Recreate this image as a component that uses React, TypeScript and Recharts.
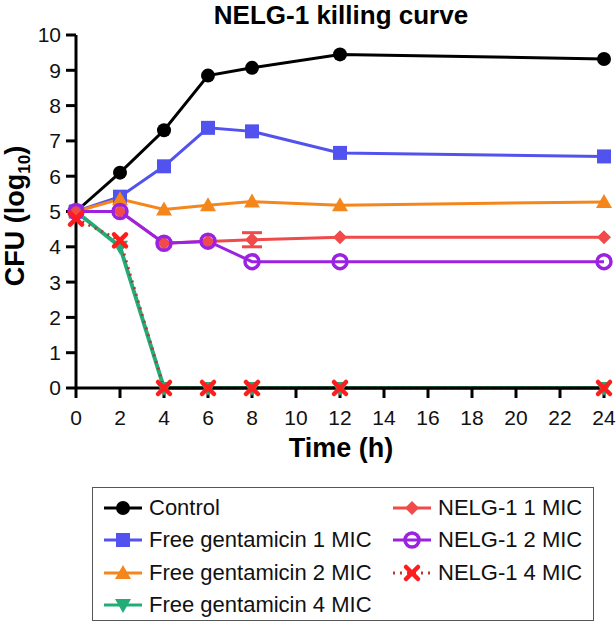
import React from 'react';
import { LineChart, Line, XAxis, YAxis, ErrorBar } from 'recharts';

const times = [0, 2, 4, 6, 8, 12, 24];
const control = [5, 6.1, 7.3, 8.85, 9.07, 9.45, 9.32];
const gent1 = [5, 5.42, 6.28, 7.37, 7.27, 6.66, 6.56];
const gent2 = [5, 5.35, 5.06, 5.18, 5.28, 5.18, 5.27];
const gent4 = [5, 4.0, 0, 0, 0, 0, 0];
const nelg1 = [5, 5, 4.1, 4.15, 4.2, 4.27, 4.27];
const nelg1Err = [0, 0, 0, 0, 0.2, 0, 0];
const nelg2 = [5, 5, 4.1, 4.16, 3.58, 3.58, 3.58];
const nelg4 = [4.8, 4.18, 0, 0, 0, 0, 0];

const xTicks = [0, 2, 4, 6, 8, 10, 12, 14, 16, 18, 20, 22, 24];
const yTicks = [0, 1, 2, 3, 4, 5, 6, 7, 8, 9, 10];

const data = times.map((t, i) => ({
  t,
  control: control[i],
  gent1: gent1[i],
  gent2: gent2[i],
  gent4: gent4[i],
  nelg1: nelg1[i],
  nelg1Err: nelg1Err[i],
  nelg2: nelg2[i],
  nelg4: nelg4[i],
}));

const FONT = '"Liberation Sans", Arial, sans-serif';

const C = {
  control: '#000000',
  gent1: '#5252ee',
  gent2: '#f5861c',
  gent4: '#22ad78',
  nelg1: '#f04a4a',
  nelg2: '#9b22e0',
  nelg4: '#ff1c1c',
  nelg4Line: '#b83a30',
};

type Shape = 'circle' | 'square' | 'up' | 'down' | 'diamond' | 'open' | 'x';

function Marker({ shape, cx, cy, color }: { shape: Shape; cx: number; cy: number; color: string }) {
  switch (shape) {
    case 'circle':
      return <circle cx={cx} cy={cy} r={7} fill={color} />;
    case 'square':
      return <rect x={cx - 7} y={cy - 7} width={14} height={14} fill={color} />;
    case 'up':
      return <polygon points={`${cx},${cy - 8} ${cx - 8},${cy + 6} ${cx + 8},${cy + 6}`} fill={color} />;
    case 'down':
      return <polygon points={`${cx - 8},${cy - 6} ${cx + 8},${cy - 6} ${cx},${cy + 8}`} fill={color} />;
    case 'diamond':
      return <polygon points={`${cx},${cy - 7} ${cx + 7},${cy} ${cx},${cy + 7} ${cx - 7},${cy}`} fill={color} />;
    case 'open':
      return <circle cx={cx} cy={cy} r={7} fill="none" stroke={color} strokeWidth={3.5} />;
    case 'x':
      return (
        <g stroke={color} strokeWidth={4.5} strokeLinecap="round">
          <line x1={cx - 6} y1={cy - 6} x2={cx + 6} y2={cy + 6} />
          <line x1={cx - 6} y1={cy + 6} x2={cx + 6} y2={cy - 6} />
        </g>
      );
  }
  return null;
}

const dotFn = (shape: Shape, color: string) => (p: any) => (
  <g key={`d-${shape}-${p.index}`}>
    <Marker shape={shape} cx={p.cx} cy={p.cy} color={color} />
  </g>
);

const series = [
  { key: 'control', name: 'Control', color: C.control, shape: 'circle' as Shape },
  { key: 'gent1', name: 'Free gentamicin 1 MIC', color: C.gent1, shape: 'square' as Shape },
  { key: 'gent2', name: 'Free gentamicin 2 MIC', color: C.gent2, shape: 'up' as Shape },
  { key: 'gent4', name: 'Free gentamicin 4 MIC', color: C.gent4, shape: 'down' as Shape },
  { key: 'nelg1', name: 'NELG-1 1 MIC', color: C.nelg1, shape: 'diamond' as Shape },
  { key: 'nelg2', name: 'NELG-1 2 MIC', color: C.nelg2, shape: 'open' as Shape },
  { key: 'nelg4', name: 'NELG-1 4 MIC', color: C.nelg4, shape: 'x' as Shape },
];

function LegendSwatch({ s }: { s: (typeof series)[number] }) {
  const dotted = s.key === 'nelg4';
  return (
    <svg width={40} height={20} style={{ display: 'block' }}>
      <line
        x1={1}
        y1={10}
        x2={39}
        y2={10}
        stroke={dotted ? C.nelg4Line : s.color}
        strokeWidth={3}
        strokeDasharray={dotted ? '2 5' : undefined}
      />
      <Marker shape={s.shape} cx={20} cy={10} color={s.color} />
    </svg>
  );
}

function ChartLegend() {
  const col1 = series.slice(0, 4);
  const col2 = series.slice(4);
  const item = (s: (typeof series)[number], col: number, row: number) => (
    <div
      key={s.key}
      style={{
        position: 'absolute',
        left: col === 0 ? 10 : 299,
        top: 8 + row * 32.3,
        height: 24,
        display: 'flex',
        alignItems: 'center',
        whiteSpace: 'nowrap',
      }}
    >
      <LegendSwatch s={s} />
      <span style={{ marginLeft: 6, fontSize: 22, color: '#111', fontFamily: FONT }}>{s.name}</span>
    </div>
  );
  return (
    <div
      style={{
        position: 'absolute',
        left: 92,
        top: 487,
        width: 502,
        height: 134,
        border: '1.5px solid #555',
        boxSizing: 'border-box',
      }}
    >
      {col1.map((s, i) => item(s, 0, i))}
      {col2.map((s, i) => item(s, 1, i))}
    </div>
  );
}

export default function App() {
  const axisStyle = { stroke: '#000', strokeWidth: 3 };
  return (
    <div style={{ position: 'absolute', left: 0, top: 0, width: 616, height: 625, background: '#fff', fontFamily: FONT }}>
      <div
        style={{
          position: 'absolute',
          left: 76,
          width: 530,
          top: 0,
          textAlign: 'center',
          fontWeight: 'bold',
          fontSize: 26,
          lineHeight: '30px',
          color: '#000',
        }}
      >
        NELG-1 killing curve
      </div>
      <div
        style={{
          position: 'absolute',
          left: 15,
          top: 216,
          transform: 'translate(-50%, -50%) rotate(-90deg)',
          whiteSpace: 'nowrap',
          fontWeight: 'bold',
          fontSize: 27,
          lineHeight: '30px',
          color: '#000',
        }}
      >
        CFU (log<sub style={{ fontSize: 17, lineHeight: 0 }}>10</sub>)
      </div>
      <div
        style={{
          position: 'absolute',
          left: 76,
          width: 530,
          top: 432,
          textAlign: 'center',
          fontWeight: 'bold',
          fontSize: 27,
          lineHeight: '32px',
          color: '#000',
        }}
      >
        Time (h)
      </div>
      <LineChart
        width={616}
        height={470}
        data={data}
        margin={{ top: 35, right: 12, bottom: 0, left: 0 }}
        style={{ position: 'absolute', left: 0, top: 0 }}
      >
        <XAxis
          type="number"
          dataKey="t"
          domain={[0, 24]}
          ticks={xTicks}
          interval={0}
          height={82}
          axisLine={axisStyle}
          tickLine={axisStyle}
          tickSize={10}
          tickMargin={12}
          tick={{ fill: '#111', fontSize: 21, fontFamily: FONT }}
        />
        <YAxis
          type="number"
          domain={[0, 10]}
          ticks={yTicks}
          interval={0}
          width={76}
          axisLine={axisStyle}
          tickLine={axisStyle}
          tickSize={10}
          tickMargin={5}
          tick={{ fill: '#111', fontSize: 21, fontFamily: FONT }}
        />
        <Line dataKey="control" stroke={C.control} strokeWidth={3} dot={dotFn('circle', C.control)} isAnimationActive={false} />
        <Line dataKey="gent1" stroke={C.gent1} strokeWidth={3} dot={dotFn('square', C.gent1)} isAnimationActive={false} />
        <Line dataKey="gent2" stroke={C.gent2} strokeWidth={3} dot={dotFn('up', C.gent2)} isAnimationActive={false} />
        <Line dataKey="gent4" stroke={C.gent4} strokeWidth={4} dot={dotFn('down', C.gent4)} isAnimationActive={false} />
        <Line dataKey="nelg1" stroke={C.nelg1} strokeWidth={3} dot={dotFn('diamond', C.nelg1)} isAnimationActive={false}>
          <ErrorBar dataKey="nelg1Err" width={10} strokeWidth={3} stroke={C.nelg1} direction="y" />
        </Line>
        <Line dataKey="nelg2" stroke={C.nelg2} strokeWidth={3} dot={dotFn('open', C.nelg2)} isAnimationActive={false} />
        <Line
          dataKey="nelg4"
          stroke={C.nelg4Line}
          strokeWidth={3}
          strokeDasharray="2 5"
          dot={dotFn('x', C.nelg4)}
          isAnimationActive={false}
        />
      </LineChart>
      <ChartLegend />
    </div>
  );
}
